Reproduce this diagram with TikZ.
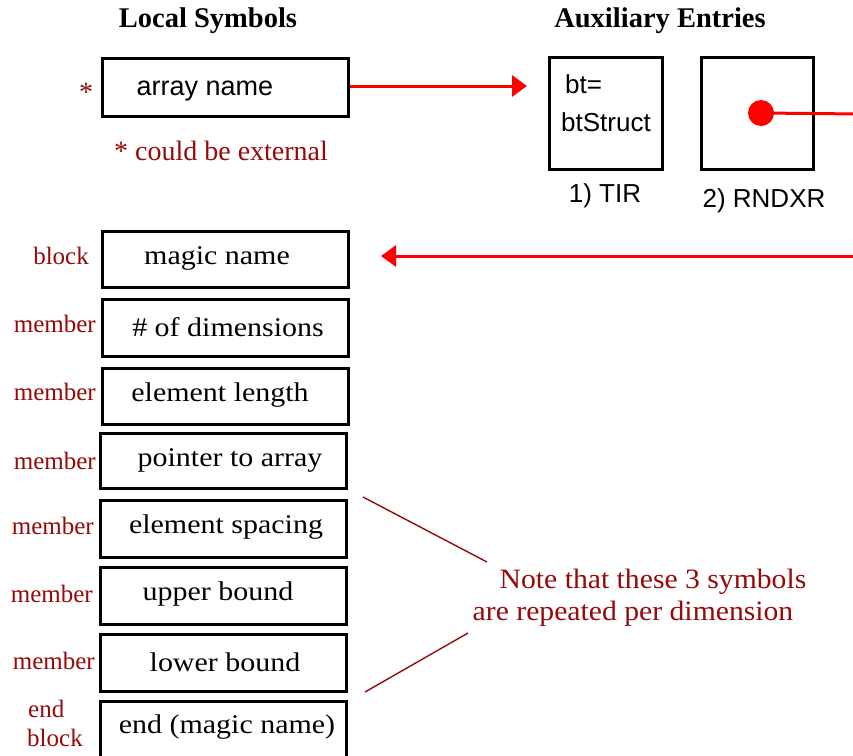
\documentclass[tikz,border=0pt]{standalone}
\usepackage{fontspec}
\setmainfont{Liberation Serif}
\newfontfamily\sansf{Liberation Sans}
\newfontfamily\wides[FakeStretch=1.11]{Liberation Serif}
\newfontfamily\notes[FakeStretch=1.06]{Liberation Serif}
\usetikzlibrary{arrows.meta}
\definecolor{dred}{RGB}{150,10,10}
\tikzset{
  box/.style={draw=black, line width=3pt, minimum width=246pt, minimum height=56pt, inner sep=0pt},
  sqbox/.style={draw=black, line width=3pt, minimum width=112pt, minimum height=112pt, inner sep=0pt},
  boxtxt/.style={font=\wides\fontsize{27}{29}\selectfont, inner sep=0pt},
  sanstxt/.style={font=\sansf\fontsize{26}{28}\selectfont, inner sep=0pt},
  lbl/.style={text=dred, font=\fontsize{25}{27}\selectfont, inner sep=0pt},
  head/.style={font=\bfseries\fontsize{28.5}{30}\selectfont, inner sep=0pt},
  note/.style={text=dred, font=\notes\fontsize{28}{30}\selectfont, inner sep=0pt},
  redline/.style={draw=red, line width=3pt},
  redarrow/.style={redline, -{Triangle[length=15pt,width=21pt]}},
  noteline/.style={draw=dred, line width=1.4pt},
}
\begin{document}
\begin{tikzpicture}[x=1pt,y=-1pt]
\clip (0,0) rectangle (853,755);
\fill[white] (0,0) rectangle (853,755);

% headers
\node[head] (hloc) at (208,21) {Local Symbols};
\node[head] (haux) at (660,21) {Auxiliary Entries};

% top row
\node[box, minimum height=58pt] (arr) at (225,87) {};
\node[sanstxt, font=\sansf\fontsize{27}{29}\selectfont] (arrt) at (205,91) {array name};
\node[lbl, font=\fontsize{28}{30}\selectfont] (star) at (86,92) {*};
\node[note, font=\fontsize{28}{30}\selectfont] (ext) at (221,151) {* could be external};

\node[sqbox, minimum width=113pt] (tir) at (605.5,113) {};
\node[sanstxt, anchor=west] (bt1) at (565,84) {bt=};
\node[sanstxt] (bt2) at (606,122) {btStruct};
\node[sanstxt] (tirl) at (605,196) {1) TIR};

\node[sqbox] (rnd) at (757,113) {};
\node[sanstxt] (rndl) at (764,201) {2) RNDXR};
\node[circle, fill=red, minimum size=26pt, inner sep=0pt] (dot) at (761,113) {};
\coordinate (rout) at (860,114);
\draw[redline] (dot.center) -- (rout);

\coordinate (tirin) at (527,86);
\draw[redarrow] (arr.east |- 0,86) -- (tirin);

\coordinate (rin) at (860,256);
\coordinate (magin) at (381,256);
\draw[redarrow] (rin) -- (magin);

% list of symbols
\node[box] (magic) at (225,259) {};
\node[box, minimum height=57pt] (dims) at (225,327.5) {};
\node[box] (elen) at (225,396) {};
\node[box, minimum height=55pt] (ptr) at (223,460.5) {};
\node[box, minimum height=57pt] (esp) at (223,528.5) {};
\node[box, minimum height=57pt] (ub) at (223,595.5) {};
\node[box, minimum height=57pt] (lb) at (223,662.5) {};
\node[box, minimum height=70pt] (endb) at (223,736) {};

\node[boxtxt] (magict) at (217,258) {magic name};
\node[boxtxt] (dimst) at (228,327) {\# of dimensions};
\node[boxtxt] (elent) at (220,395) {element length};
\node[boxtxt] (ptrt) at (230,460) {pointer to array};
\node[boxtxt] (espt) at (226,527) {element spacing};
\node[boxtxt] (ubt) at (218,594) {upper bound};
\node[boxtxt] (lbt) at (225,662) {lower bound};
\node[boxtxt] (endt) at (227,727) {end (magic name)};

\node[lbl, anchor=east] (l1) at (89,256) {block};
\node[lbl, anchor=east] (l2) at (96,324) {member};
\node[lbl, anchor=east] (l3) at (96,392) {member};
\node[lbl, anchor=east] (l4) at (96,461) {member};
\node[lbl, anchor=east] (l5) at (94,526) {member};
\node[lbl, anchor=east] (l6) at (93,594) {member};
\node[lbl, anchor=east] (l7) at (95,661) {member};
\node[lbl, anchor=west] (l8a) at (28,709) {end};
\node[lbl, anchor=west] (l8b) at (27,738) {block};

% note
\node[note] (n1) at (653,582) {Note that these 3 symbols};
\node[note] (n2) at (633,614) {are repeated per dimension};
\coordinate (na) at (363,497);
\coordinate (nb) at (487,562);
\coordinate (nc) at (468,633);
\coordinate (nd) at (365,692);
\draw[noteline] (na) -- (nb);
\draw[noteline] (nc) -- (nd);
\end{tikzpicture}
\end{document}
